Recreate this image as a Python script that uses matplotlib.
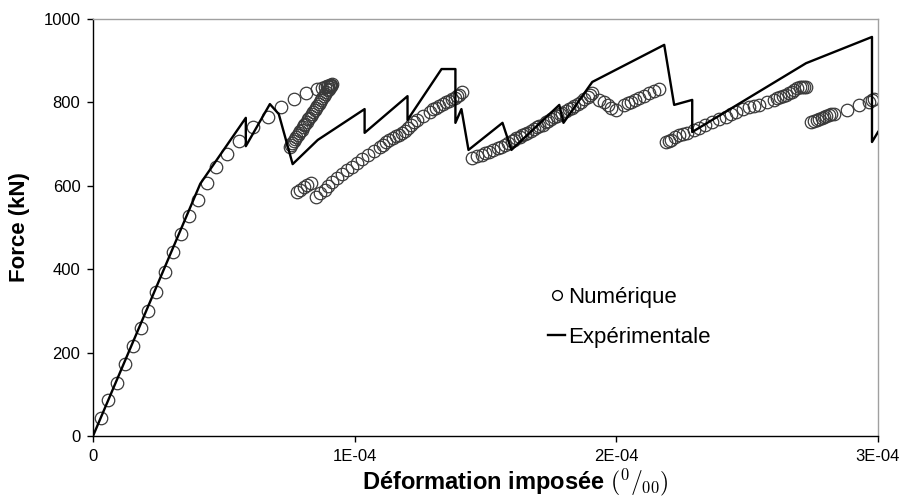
import matplotlib
matplotlib.use("Agg")
import matplotlib.pyplot as plt
from matplotlib.lines import Line2D

plt.rcParams['font.family'] = ['Liberation Sans', 'DejaVu Sans']
plt.rcParams['mathtext.fontset'] = 'cm'

# Numerical results (strain in 1e-4 units, force in kN)
# branch 1: initial loading
n1_x = [0.03, 0.057, 0.092, 0.122, 0.153, 0.183, 0.21, 0.24, 0.275, 0.305, 0.336, 0.366,
        0.40, 0.435, 0.469, 0.511, 0.557, 0.611, 0.668, 0.718, 0.767, 0.813, 0.855, 0.875,
        0.885, 0.893, 0.899, 0.904, 0.908, 0.912]
n1_y = [43, 86, 127, 173, 216, 259, 300, 345, 393, 441, 484, 528,
        566, 607, 645, 676, 707, 741, 765, 789, 808, 823, 832, 835,
        837, 839, 840, 841, 842, 843]
# branch 2: steep reloading
n2_x = [0.752, 0.757, 0.762, 0.767, 0.772, 0.777, 0.782, 0.787, 0.792, 0.797, 0.802, 0.807,
        0.812, 0.817, 0.822, 0.827, 0.832, 0.837, 0.842, 0.847, 0.852, 0.857, 0.862, 0.867,
        0.872, 0.877, 0.882, 0.887, 0.892, 0.897, 0.902, 0.905, 0.908]
n2_y = [693, 698, 702, 707, 712, 716, 721, 726, 731, 735, 740, 745,
        749, 754, 759, 763, 768, 773, 777, 782, 787, 791, 796, 801,
        805, 810, 815, 819, 824, 829, 833, 837, 840]
# branch 3
n3_x = [0.779, 0.792, 0.805, 0.818, 0.832,
        0.851, 0.868, 0.885, 0.900, 0.915, 0.931, 0.950, 0.969, 0.988, 1.008, 1.028, 1.050,
        1.072, 1.095, 1.108, 1.120, 1.133, 1.145, 1.158, 1.168, 1.180, 1.191, 1.203, 1.215,
        1.228, 1.240, 1.263, 1.286, 1.300, 1.311, 1.324, 1.336, 1.348, 1.360, 1.372, 1.382,
        1.392, 1.400, 1.412]
n3_y = [585, 591, 597, 602, 607,
        573, 582, 590, 600, 610, 619, 629, 638, 646, 655, 664, 674,
        684, 693, 699, 704, 709, 715, 719, 723, 727, 731, 738, 745,
        752, 758, 768, 777, 783, 787, 791, 796, 800, 804, 808, 811,
        815, 818, 825]
# branch 4
n4_x = [1.450, 1.468, 1.485, 1.500, 1.515, 1.530, 1.546, 1.560, 1.573, 1.587, 1.600, 1.610,
        1.618, 1.630, 1.640, 1.650, 1.660, 1.672, 1.685, 1.695, 1.706, 1.718, 1.730, 1.740,
        1.752, 1.763, 1.773, 1.784, 1.794, 1.806, 1.818, 1.830, 1.840, 1.852, 1.865, 1.878,
        1.890, 1.900, 1.908,
        1.935, 1.954, 1.968, 1.981, 2.000, 2.031, 2.045, 2.057, 2.072, 2.088, 2.105, 2.126,
        2.145, 2.164]
n4_y = [667, 671, 674, 678, 681, 686, 691, 694, 698, 703, 707, 711,
        715, 718, 722, 725, 727, 732, 737, 740, 743, 747, 752, 756,
        760, 764, 768, 772, 775, 779, 783, 787, 791, 796, 802, 808,
        813, 818, 823,
        806, 801, 794, 787, 782, 794, 798, 801, 806, 811, 816, 823,
        828, 832]
# branch 5
n5_x = [2.191, 2.200, 2.210, 2.225, 2.240, 2.255, 2.271, 2.295, 2.317, 2.340, 2.366, 2.393,
        2.420, 2.440, 2.458, 2.483, 2.508, 2.527, 2.546, 2.575, 2.603, 2.615, 2.627, 2.638,
        2.649, 2.660, 2.670, 2.680, 2.691, 2.700, 2.710, 2.718, 2.725]
n5_y = [705, 707, 710, 716, 722, 724, 727, 733, 739, 746, 753, 759,
        765, 771, 777, 783, 789, 791, 794, 800, 806, 810, 813, 816,
        818, 822, 826, 830, 835, 836, 837, 837, 838]
# branch 6
n6_x = [2.744, 2.755, 2.767, 2.775, 2.786, 2.795, 2.803, 2.813, 2.822, 2.832, 2.882, 2.927,
        2.966, 2.977, 2.985]
n6_y = [753, 756, 758, 761, 763, 766, 768, 770, 771, 772, 782, 794,
        801, 806, 808]

num_x = n1_x + n2_x + n3_x + n4_x + n5_x + n6_x
num_y = n1_y + n2_y + n3_y + n4_y + n5_y + n6_y

# Experimental curve
exp_x = [0, 0.41, 0.584, 0.584, 0.676, 0.71, 0.763, 0.859, 1.038, 1.038, 1.202, 1.202,
         1.332, 1.385, 1.385, 1.408, 1.435, 1.565, 1.599, 1.782, 1.798, 1.908, 2.183,
         2.221, 2.29, 2.29, 2.725, 2.977, 2.977, 3.0]
exp_y = [0, 605, 763, 695, 796, 772, 652, 710, 784, 727, 815, 758,
         880, 880, 751, 784, 686, 751, 686, 794, 751, 849, 938,
         794, 806, 729, 894, 957, 705, 729]

xticks = [0, 1, 2, 3]
xtick_labels = ['0', '1E-04', '2E-04', '3E-04']
yticks = [0, 200, 400, 600, 800, 1000]

fig = plt.figure(figsize=(9.03, 4.98), dpi=100)
ax = fig.add_axes([93/903, 62/498, 785/903, 417/498])

ax.plot(exp_x, exp_y, color='black', lw=1.7, zorder=3)
ax.plot(num_x, num_y, linestyle='none', marker='o', markersize=9,
        markerfacecolor='none', markeredgecolor='#3a3a3a', markeredgewidth=0.9, zorder=2)

ax.set_xlim(0, 3)
ax.set_ylim(0, 1000)
ax.set_xticks(xticks)
ax.set_xticklabels(xtick_labels)
ax.set_yticks(yticks)
ax.tick_params(axis='both', labelsize=12, direction='out', length=4, width=1, color='black', pad=5)

for s in ['left', 'bottom']:
    ax.spines[s].set_color('black')
    ax.spines[s].set_linewidth(1.0)
for s in ['top', 'right']:
    ax.spines[s].set_color('#a0a0a0')
    ax.spines[s].set_linewidth(1.0)

ax.set_ylabel('Force (kN)', fontsize=16, fontweight='bold')
ax.yaxis.set_label_coords(-0.08, 0.5)
ax.set_xlabel(r'Déformation imposée $(^0/_{00})$', fontsize=17, fontweight='bold')
ax.xaxis.set_label_coords((515 - 93) / 785, -0.074)

handles = [Line2D([], [], linestyle='none', marker='o', markersize=7, markerfacecolor='none',
                  markeredgecolor='black', markeredgewidth=1.0),
           Line2D([], [], color='black', lw=1.7)]
ax.legend(handles, ['Numérique', 'Expérimentale'], loc='center left',
          bbox_to_anchor=(0.565, 0.285), frameon=False, fontsize=16,
          handlelength=0.8, handletextpad=0.1, labelspacing=0.85, borderpad=0)

fig.savefig('out.png', dpi=100)
